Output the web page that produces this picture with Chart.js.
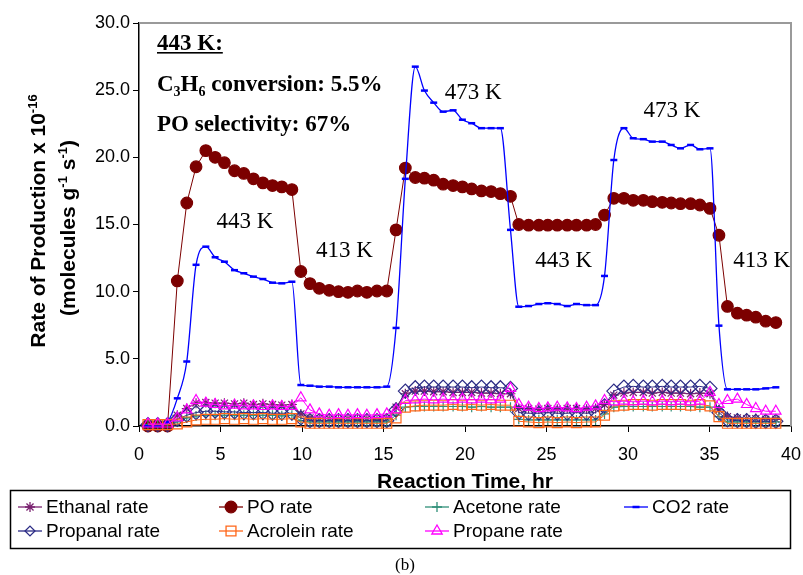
<!DOCTYPE html>
<html>
<head>
<meta charset="utf-8">
<script src="https://cdn.jsdelivr.net/npm/chart.js@4.4.1/dist/chart.umd.min.js"></script>
<style>
  html, body { margin: 0; padding: 0; background: #fff; }
  canvas { display: block; }
</style>
</head>
<body>
<canvas id="rateChart" width="803" height="575"></canvas>
<script>
// reaction time (hr) of each sample
const hours = [0.55, 1.15, 1.75, 2.35, 2.93, 3.50, 4.10, 4.67, 5.24, 5.86, 6.43, 7.02, 7.60, 8.19, 8.76, 9.38,
  9.93, 10.49, 11.06, 11.67, 12.24, 12.82, 13.40, 13.98, 14.60, 15.20,
  15.77, 16.34, 16.95, 17.51, 18.08, 18.66, 19.27, 19.84, 20.41, 21.01, 21.60, 22.17, 22.79,
  23.30, 23.90, 24.53, 25.08, 25.66, 26.27, 26.84, 27.46, 28.01,
  28.56, 29.13, 29.75, 30.32, 30.94, 31.49, 32.10, 32.65, 33.22, 33.84, 34.41, 35.03,
  35.58, 36.10, 36.71, 37.28, 37.84, 38.45, 39.07];

// rates x 1e-16 molecules g-1 s-1
const ethanal = [0.1, 0.1, 0.1, 0.8, 1.3, 1.7, 1.75, 1.7, 1.7, 1.65, 1.7, 1.6, 1.65, 1.6, 1.55, 1.6,
  0.9, 0.6, 0.55, 0.55, 0.5, 0.55, 0.5, 0.55, 0.5, 0.55,
  1.4, 2.4, 2.6, 2.6, 2.55, 2.55, 2.5, 2.5, 2.5, 2.45, 2.45, 2.4, 2.4,
  1.3, 1.3, 1.25, 1.3, 1.25, 1.3, 1.3, 1.25, 1.3,
  1.6, 2.3, 2.45, 2.5, 2.5, 2.45, 2.5, 2.45, 2.45, 2.4, 2.45, 2.4,
  1.2, 0.7, 0.6, 0.55, 0.55, 0.5, 0.5];
const po = [0, 0, 0, 10.8, 16.6, 19.3, 20.5, 20.0, 19.6, 19.0, 18.8, 18.4, 18.1, 17.9, 17.8, 17.6,
  11.5, 10.6, 10.25, 10.1, 10.0, 9.95, 10.05, 9.95, 10.05, 10.05,
  14.6, 19.2, 18.5, 18.45, 18.3, 18.0, 17.9, 17.8, 17.65, 17.5, 17.45, 17.3, 17.1,
  15.0, 14.95, 14.95, 14.95, 14.95, 14.95, 14.95, 14.95, 15.0,
  15.7, 16.95, 16.95, 16.8, 16.8, 16.7, 16.65, 16.6, 16.55, 16.55, 16.45, 16.2,
  14.2, 8.9, 8.4, 8.25, 8.1, 7.8, 7.7];
const acetone = [0.1, 0.1, 0.1, 0.3, 0.6, 0.75, 0.8, 0.8, 0.8, 0.8, 0.8, 0.8, 0.8, 0.8, 0.75, 0.8,
  0.4, 0.3, 0.3, 0.3, 0.3, 0.3, 0.3, 0.3, 0.3, 0.3,
  0.8, 1.4, 1.45, 1.45, 1.45, 1.45, 1.45, 1.45, 1.4, 1.45, 1.4, 1.4, 1.4,
  0.5, 0.45, 0.45, 0.45, 0.45, 0.45, 0.45, 0.45, 0.45,
  0.9, 1.4, 1.45, 1.45, 1.45, 1.45, 1.45, 1.45, 1.45, 1.45, 1.4, 1.4,
  0.7, 0.3, 0.3, 0.3, 0.3, 0.3, 0.3];
const co2 = [0, 0, 0.3, 2.06, 4.8, 12.0, 13.35, 12.56, 12.23, 11.6, 11.37, 11.12, 10.94, 10.67, 10.62, 10.74,
  3.05, 3.0, 2.93, 2.93, 2.88, 2.88, 2.88, 2.88, 2.88, 2.93,
  7.3, 18.4, 26.75, 24.97, 24.07, 23.4, 23.5, 22.8, 22.54, 22.17, 22.17, 22.17, 14.6,
  8.88, 8.93, 9.08, 9.14, 9.08, 8.93, 9.08, 9.0, 9.0,
  11.17, 19.8, 22.17, 21.42, 21.35, 21.17, 21.17, 20.92, 20.67, 20.92, 20.6, 20.67,
  7.47, 2.73, 2.73, 2.73, 2.73, 2.8, 2.88];
const propanal = [0.1, 0.1, 0.1, 0.5, 0.8, 1.0, 1.1, 1.1, 1.05, 1.05, 1.0, 1.0, 1.0, 0.95, 0.95, 0.95,
  0.6, 0.4, 0.4, 0.4, 0.4, 0.4, 0.4, 0.4, 0.4, 0.4,
  1.2, 2.6, 2.85, 2.9, 2.9, 2.9, 2.9, 2.9, 2.85, 2.9, 2.85, 2.85, 2.8,
  1.0, 0.95, 0.95, 1.0, 0.95, 0.95, 1.0, 0.95, 1.0,
  1.5, 2.6, 2.9, 2.95, 2.9, 2.9, 2.95, 2.9, 2.9, 2.9, 2.95, 2.8,
  1.0, 0.45, 0.4, 0.4, 0.35, 0.35, 0.35];
const acrolein = [0.1, 0.1, 0.1, 0.15, 0.3, 0.45, 0.5, 0.5, 0.55, 0.5, 0.55, 0.5, 0.55, 0.5, 0.5, 0.55,
  0.3, 0.2, 0.2, 0.2, 0.2, 0.2, 0.2, 0.2, 0.2, 0.2,
  0.6, 1.4, 1.5, 1.55, 1.55, 1.55, 1.6, 1.55, 1.6, 1.55, 1.6, 1.55, 1.55,
  0.35, 0.3, 0.25, 0.3, 0.25, 0.3, 0.25, 0.3, 0.3,
  0.8, 1.5, 1.55, 1.6, 1.6, 1.55, 1.6, 1.6, 1.6, 1.55, 1.6, 1.5,
  0.7, 0.2, 0.2, 0.2, 0.2, 0.2, 0.2];
const propane = [0.15, 0.15, 0.15, 0.6, 1.2, 1.9, 1.7, 1.6, 1.5, 1.55, 1.5, 1.5, 1.45, 1.5, 1.45, 1.45,
  2.1, 1.2, 0.9, 0.8, 0.85, 0.8, 0.85, 0.8, 0.85, 0.9,
  1.2, 1.9, 1.95, 2.0, 1.95, 2.0, 1.95, 2.0, 1.95, 2.0, 1.95, 2.0, 2.8,
  1.6, 1.4, 1.3, 1.35, 1.4, 1.35, 1.3, 1.4, 1.5,
  1.9, 1.8, 1.85, 1.8, 1.85, 1.8, 1.85, 1.8, 1.85, 1.8, 1.85, 2.5,
  1.6, 1.9, 2.0, 1.6, 1.3, 1.1, 1.1];

const xTicks = [0, 5, 10, 15, 20, 25, 30, 35, 40];
const yTicks = [0, 5, 10, 15, 20, 25, 30];

// temperature labels: text, hour, rate
const tempLabels = [
  ['443 K', 6.5, 15.2], ['413 K', 12.6, 13.0], ['473 K', 20.5, 24.8],
  ['443 K', 26.05, 12.3], ['473 K', 32.7, 23.45], ['413 K', 38.2, 12.3]
];

const SANS = '"Liberation Sans", Arial, Helvetica, sans-serif';
const NARROW = '"Liberation Sans Narrow", "Arial Narrow", ' + SANS;
const SERIF = '"Liberation Serif", "Times New Roman", Times, serif';

function pts(arr) {
  return hours.map((h, i) => ({ x: h, y: arr[i] }));
}

// series in Excel order, last one drawn on top
const series = [
  { label: 'Ethanal rate', data: ethanal, color: '#7a2270', style: 'star', r: 5, fill: false },
  { label: 'PO rate', data: po, color: '#7c0000', style: 'circle', r: 5.8, fill: true },
  { label: 'Acetone rate', data: acetone, color: '#2f8f78', style: 'cross', r: 5, fill: false },
  { label: 'CO2 rate', data: co2, color: '#0000ff', style: 'line', r: 3.5, fill: false },
  { label: 'Propanal rate', data: propanal, color: '#2b2b85', style: 'rectRot', r: 7, fill: false },
  { label: 'Acrolein rate', data: acrolein, color: '#ff6619', style: 'rect', r: 7, fill: false },
  { label: 'Propane rate', data: propane, color: '#ff00ff', style: 'triangle', r: 6, fill: false }
];

const datasets = series.map((s, i) => ({
  label: s.label,
  data: pts(s.data),
  borderColor: s.color,
  backgroundColor: s.color,
  borderWidth: s.style === 'line' ? 1.3 : 1,
  pointStyle: s.style,
  pointRadius: s.r,
  pointBorderColor: s.color,
  pointBackgroundColor: s.fill ? s.color : 'rgba(0,0,0,0)',
  pointBorderWidth: s.style === 'line' ? 2.5 : 1.2,
  cubicInterpolationMode: s.style === 'line' ? 'monotone' : 'default',
  tension: 0,
  clip: false,
  order: series.length - i
}));

function drawParts(ctx, parts, x, y, size, weight, family, align) {
  const small = Math.round(size * 0.62);
  const widths = parts.map(p => {
    ctx.font = weight + ' ' + (p[1] ? small : size) + 'px ' + family;
    return ctx.measureText(p[0]).width;
  });
  const total = widths.reduce((a, b) => a + b, 0);
  let cx = align === 'center' ? x - total / 2 : x;
  ctx.textAlign = 'left';
  parts.forEach((p, i) => {
    ctx.font = weight + ' ' + (p[1] ? small : size) + 'px ' + family;
    const dy = p[1] === 'sup' ? -size * 0.4 : p[1] === 'sub' ? size * 0.22 : 0;
    ctx.fillText(p[0], cx, y + dy);
    cx += widths[i];
  });
  return total;
}

function drawMarker(ctx, s, x, y) {
  const r = s.r;
  ctx.beginPath();
  if (s.style === 'circle') {
    ctx.arc(x, y, r, 0, Math.PI * 2);
    ctx.fill();
  } else if (s.style === 'line') {
    ctx.lineWidth = 2.5;
    ctx.moveTo(x - r, y); ctx.lineTo(x + r, y);
  } else if (s.style === 'cross') {
    ctx.moveTo(x - r, y); ctx.lineTo(x + r, y);
    ctx.moveTo(x, y - r); ctx.lineTo(x, y + r);
  } else if (s.style === 'star') {
    const d = r * Math.SQRT1_2;
    ctx.moveTo(x - r, y); ctx.lineTo(x + r, y);
    ctx.moveTo(x, y - r); ctx.lineTo(x, y + r);
    ctx.moveTo(x - d, y - d); ctx.lineTo(x + d, y + d);
    ctx.moveTo(x - d, y + d); ctx.lineTo(x + d, y - d);
  } else if (s.style === 'rect') {
    const d = r * Math.SQRT1_2;
    ctx.rect(x - d, y - d, 2 * d, 2 * d);
  } else if (s.style === 'rectRot') {
    const d = r * Math.SQRT1_2;
    ctx.moveTo(x - d, y); ctx.lineTo(x, y + d); ctx.lineTo(x + d, y); ctx.lineTo(x, y - d); ctx.closePath();
  } else if (s.style === 'triangle') {
    ctx.moveTo(x, y - r);
    ctx.lineTo(x + r * 0.866, y + r * 0.5);
    ctx.lineTo(x - r * 0.866, y + r * 0.5);
    ctx.closePath();
  }
  ctx.stroke();
}

const framePlugin = {
  id: 'frame',
  beforeDatasetsDraw(chart) {
    const { ctx, chartArea: a } = chart;
    ctx.save();
    ctx.strokeStyle = '#9a9a9a';
    ctx.lineWidth = 2;
    ctx.beginPath();
    ctx.moveTo(a.left, a.top); ctx.lineTo(a.right, a.top); ctx.lineTo(a.right, a.bottom);
    ctx.stroke();
    ctx.restore();
  }
};

const textPlugin = {
  id: 'texts',
  afterDraw(chart) {
    const { ctx, chartArea: a, scales } = chart;
    ctx.save();
    ctx.fillStyle = '#000';
    ctx.textBaseline = 'alphabetic';

    // info block
    const bx = a.left + 18;
    const w = drawParts(ctx, [['443 K:', null]], bx, 50, 23, 'bold', SERIF, 'left');
    ctx.fillRect(bx, 52, w, 1.6);
    drawParts(ctx, [['C', null], ['3', 'sub'], ['H', null], ['6', 'sub'], [' conversion: 5.5%', null]], bx, 91, 23, 'bold', SERIF, 'left');
    drawParts(ctx, [['PO selectivity: 67%', null]], bx, 131, 23, 'bold', SERIF, 'left');

    // temperature labels
    ctx.font = '23px ' + SERIF;
    ctx.textAlign = 'center';
    ctx.textBaseline = 'middle';
    tempLabels.forEach(t => {
      ctx.fillText(t[0], scales.x.getPixelForValue(t[1]), scales.y.getPixelForValue(t[2]));
    });

    // axis titles
    ctx.textBaseline = 'alphabetic';
    ctx.font = 'bold 21px ' + SANS;
    ctx.textAlign = 'center';
    ctx.fillText('Reaction Time, hr', (a.left + a.right) / 2, 488);

    ctx.save();
    ctx.translate(45, 221);
    ctx.rotate(-Math.PI / 2);
    drawParts(ctx, [['Rate of Production x 10', null], ['-16', 'sup']], 0, 0, 21, 'bold', SANS, 'center');
    ctx.restore();
    ctx.save();
    ctx.translate(75, 228);
    ctx.rotate(-Math.PI / 2);
    drawParts(ctx, [['(molecules g', null], ['-1', 'sup'], [' s', null], ['-1', 'sup'], [')', null]], 0, 0, 21, 'bold', SANS, 'center');
    ctx.restore();

    // legend box
    ctx.strokeStyle = '#000';
    ctx.lineWidth = 1.5;
    ctx.strokeRect(10.5, 490.5, 780, 58);
    const cols = [30, 231, 437, 636];
    const rows = [507, 531];
    ctx.font = '19px ' + SANS;
    ctx.textAlign = 'left';
    ctx.textBaseline = 'middle';
    series.forEach((s, i) => {
      const cx = cols[i % 4];
      const cy = rows[Math.floor(i / 4)];
      ctx.strokeStyle = s.color;
      ctx.fillStyle = s.color;
      ctx.lineWidth = 1.3;
      ctx.beginPath();
      ctx.moveTo(cx - 12, cy); ctx.lineTo(cx + 12, cy);
      ctx.stroke();
      ctx.lineWidth = 1.3;
      drawMarker(ctx, s, cx, cy);
      ctx.fillStyle = '#000';
      ctx.fillText(s.label, cx + 16, cy + 1);
    });

    // caption
    ctx.font = '17px ' + SERIF;
    ctx.textAlign = 'center';
    ctx.fillText('(b)', 405, 566);
    ctx.restore();
  }
};

const ctx = document.getElementById('rateChart').getContext('2d');
const rateChart = new Chart(ctx, {
  type: 'line',
  data: { datasets: datasets },
  plugins: [framePlugin, textPlugin],
  options: {
    responsive: false,
    animation: false,
    events: [],
    layout: { padding: { top: 23, right: 12, left: 0, bottom: 0 } },
    plugins: { legend: { display: false }, tooltip: { enabled: false } },
    scales: {
      x: {
        type: 'linear',
        min: xTicks[0],
        max: xTicks[xTicks.length - 1],
        afterBuildTicks(scale) { scale.ticks = xTicks.map(v => ({ value: v })); },
        afterFit(scale) {
          scale.height = 149;
          scale.paddingLeft = 0;
          scale.paddingRight = 0;
        },
        ticks: { color: '#000', font: { family: NARROW, size: 18 }, padding: 12, maxRotation: 0, autoSkip: false },
        grid: { drawOnChartArea: false, drawTicks: true, tickLength: 6, color: '#000', tickColor: '#000' },
        border: { color: '#000', width: 1.5 }
      },
      y: {
        min: yTicks[0],
        max: yTicks[yTicks.length - 1],
        afterBuildTicks(scale) { scale.ticks = yTicks.map(v => ({ value: v })); },
        afterFit(scale) { scale.width = 139; },
        ticks: { color: '#000', font: { family: NARROW, size: 18 }, padding: 3, callback: v => v.toFixed(1) },
        grid: { drawOnChartArea: false, drawTicks: true, tickLength: 6, color: '#000', tickColor: '#000' },
        border: { color: '#000', width: 1.5 }
      }
    }
  }
});
</script>
</body>
</html>
